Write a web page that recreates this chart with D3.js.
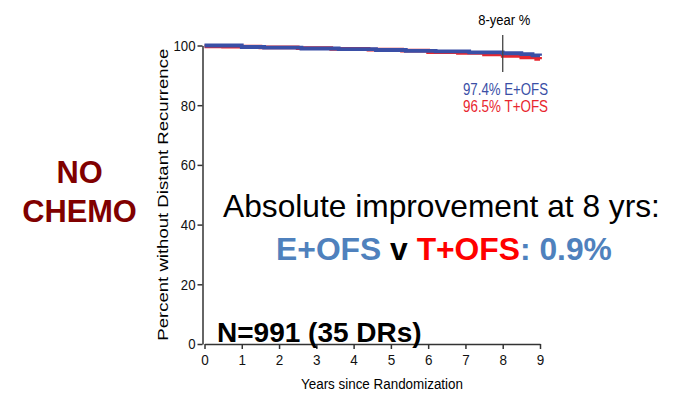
<!DOCTYPE html>
<html>
<head>
<meta charset="utf-8">
<script src="https://cdn.jsdelivr.net/npm/d3@7"></script>
<style>
  body { margin: 0; background: #fff; }
  text { font-family: "Liberation Sans", Arial, sans-serif; }
  .bold { font-weight: bold; }
</style>
</head>
<body>
<svg id="chart"></svg>
<script>
// KM curves, years vs percent
const blueTimes = [0, 1.0, 1.6, 2.6, 3.6, 4.6, 5.4, 6.2, 7.1, 8.0, 8.5, 8.8, 9.0];
const blueValues = [100, 99.5, 99.3, 99.0, 98.8, 98.5, 98.2, 98.0, 97.7, 97.4, 97.1, 96.7, 96.6];
const redTimes = [0, 0.5, 1.5, 2.5, 3.4, 4.4, 5.3, 6.0, 6.8, 7.5, 8.0, 8.5, 8.9, 9.0];
const redValues = [99.7, 99.6, 99.4, 99.1, 98.9, 98.6, 98.3, 97.8, 97.5, 97.0, 96.5, 96.0, 95.5, 95.4];
const xTicks = [0, 1, 2, 3, 4, 5, 6, 7, 8, 9];
const yTicks = [0, 20, 40, 60, 80, 100];
const landmark = 8;

const width = 674;
const height = 397;

const svg = d3.select("#chart").attr("width", width).attr("height", height);

const xScale = d3.scaleLinear().domain([0, 9]).range([204.5, 540]);
const yScale = d3.scaleLinear().domain([0, 100]).range([344, 45.5]);

// the original graph looks squeezed sideways, so narrow text is faked with textLength
function squeeze(sel, len) {
  return sel.attr("textLength", len).attr("lengthAdjust", "spacingAndGlyphs");
}

// axes
const xAxis = d3.axisBottom(xScale).tickValues(xTicks).tickSize(5).tickSizeOuter(0);
const yAxis = d3.axisLeft(yScale).tickValues(yTicks).tickSize(5).tickSizeOuter(0);

const gx = svg.append("g")
  .attr("transform", `translate(0, ${yScale(0)})`)
  .call(xAxis);
const gy = svg.append("g")
  .attr("transform", `translate(${xScale(0) - 2}, 0)`)
  .call(yAxis);

[gx, gy].forEach((g) => {
  g.attr("font-family", null).attr("font-size", null);
  g.selectAll("path, line").attr("stroke", "#333").attr("stroke-width", 1.5);
  g.selectAll("text").attr("fill", "#111").style("font-size", "15px");
});
gx.selectAll("text").attr("dy", "0.9em").attr("transform", "scale(0.9,1)");
gy.selectAll("text").attr("x", -7 / 0.88).attr("transform", "scale(0.88,1)");

// axis titles
squeeze(svg.append("text")
  .attr("x", 382)
  .attr("y", 389)
  .attr("text-anchor", "middle")
  .style("font-size", "15.5px")
  .text("Years since Randomization"), 162);

squeeze(svg.append("text")
  .attr("transform", `translate(168, ${(yScale(0) + yScale(100)) / 2}) rotate(-90)`)
  .attr("text-anchor", "middle")
  .style("font-size", "15.5px")
  .text("Percent without Distant Recurrence"), 292);

// curves
const line = d3.line()
  .x((d) => xScale(d[0]))
  .y((d) => yScale(d[1]))
  .curve(d3.curveStepAfter);

svg.append("path")
  .datum(redTimes.map((t, i) => [t, redValues[i]]))
  .attr("d", line)
  .attr("fill", "none")
  .attr("stroke", "#e8262e")
  .attr("stroke-width", 3.8);

svg.append("path")
  .datum(blueTimes.map((t, i) => [t, blueValues[i]]))
  .attr("d", line)
  .attr("fill", "none")
  .attr("stroke", "#3a4fa6")
  .attr("stroke-width", 3.8);

// 8-year marker
svg.append("line")
  .attr("x1", xScale(landmark)).attr("x2", xScale(landmark))
  .attr("y1", 35).attr("y2", 72)
  .attr("stroke", "#444").attr("stroke-width", 1.3);

squeeze(svg.append("text")
  .attr("x", xScale(landmark) + 1.5)
  .attr("y", 25)
  .attr("text-anchor", "middle")
  .style("font-size", "15.5px")
  .text("8-year %"), 52);

squeeze(svg.append("text")
  .attr("x", 548).attr("y", 95)
  .attr("text-anchor", "end")
  .style("font-size", "16px")
  .attr("fill", "#3a4fa6")
  .text("97.4% E+OFS"), 85);

squeeze(svg.append("text")
  .attr("x", 548).attr("y", 112)
  .attr("text-anchor", "end")
  .style("font-size", "16px")
  .attr("fill", "#e8262e")
  .text("96.5% T+OFS"), 85);

// annotations
const side = svg.append("g").attr("class", "bold").attr("fill", "#800000").style("font-size", "30.8px");
side.append("text").attr("x", 79.5).attr("y", 183).attr("text-anchor", "middle").text("NO");
side.append("text").attr("x", 79.5).attr("y", 221.5).attr("text-anchor", "middle").text("CHEMO");

svg.append("text")
  .attr("x", 441.5).attr("y", 217)
  .attr("text-anchor", "middle")
  .style("font-size", "31.7px")
  .text("Absolute improvement at 8 yrs:");

const cmp = svg.append("text")
  .attr("class", "bold")
  .attr("x", 444).attr("y", 260)
  .attr("text-anchor", "middle")
  .style("font-size", "31.8px");
cmp.append("tspan").attr("fill", "#4f81bd").text("E+OFS");
cmp.append("tspan").attr("fill", "#000").text(" v ");
cmp.append("tspan").attr("fill", "#ff0000").text("T+OFS");
cmp.append("tspan").attr("fill", "#4f81bd").text(": 0.9%");

svg.append("text")
  .attr("class", "bold")
  .attr("x", 217).attr("y", 342)
  .style("font-size", "28px")
  .attr("fill", "#000")
  .text("N=991 (35 DRs)");
</script>
</body>
</html>
